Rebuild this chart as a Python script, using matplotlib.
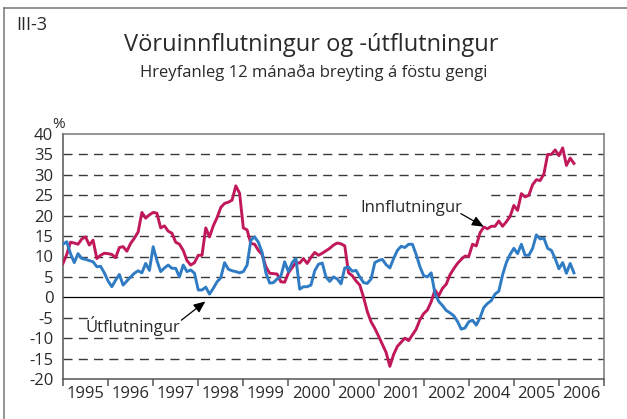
import numpy as np
import matplotlib
matplotlib.use('Agg')
import matplotlib.pyplot as plt
from matplotlib.lines import Line2D
from matplotlib.patches import Rectangle

#-- DATI (mensili, lettura dal grafico)
innflutningur = [
    8.3, 10.5, 13.5, 13.3, 13.0, 14.3, 14.8, 12.8, 14.0, 9.5, 10.3, 10.8,
    10.7, 10.5, 9.7, 12.2, 12.4, 11.3, 13.2, 14.5, 16.0, 20.8, 19.4, 20.2,
    20.8, 20.6, 17.0, 17.5, 16.2, 15.7, 13.5, 13.0, 11.5, 9.0, 7.9, 8.5,
    10.3, 10.3, 17.0, 14.8, 17.5, 19.5, 22.0, 23.0, 23.3, 23.8, 27.3, 25.5,
    17.0, 16.5, 13.2, 13.0, 11.5, 10.5, 7.5, 5.9, 5.8, 5.7, 3.8, 3.7,
    6.0, 7.3, 8.5, 8.4, 9.5, 8.3, 9.8, 11.0, 10.3, 10.8, 11.4, 12.0,
    12.8, 13.3, 13.1, 12.6, 6.0, 5.3, 4.0, 3.0, 0.0, -3.5, -6.0, -7.6,
    -9.5, -11.5, -13.5, -16.9, -14.0, -12.0, -11.0, -10.0, -10.6, -9.2, -7.8, -5.5,
    -4.0, -3.1, -1.1, 1.8, 0.4, 2.2, 3.2, 5.5, 7.0, 8.3, 9.3, 10.1,
    10.0, 13.0, 12.6, 15.8, 17.2, 16.8, 17.4, 17.4, 18.7, 17.4, 18.5, 19.8,
    22.5, 21.3, 25.4, 24.6, 25.0, 27.6, 28.8, 28.6, 30.2, 35.0, 35.0, 36.1,
    34.7, 36.6, 32.3, 34.1, 32.8,
]
utflutningur = [
    13.0, 13.6, 10.7, 8.5, 10.7, 9.5, 9.3, 9.0, 8.7, 7.5, 7.6, 6.0,
    4.0, 2.6, 4.2, 5.6, 3.0, 4.0, 5.0, 5.9, 6.5, 6.0, 8.3, 6.6,
    12.4, 9.0, 6.3, 7.2, 7.9, 7.1, 7.1, 5.0, 7.9, 6.3, 6.7, 5.9,
    1.8, 1.8, 2.5, 0.8, 2.2, 3.8, 4.8, 8.5, 6.9, 6.5, 6.3, 6.0,
    6.3, 7.9, 14.0, 14.8, 13.5, 11.0, 6.0, 3.5, 3.6, 4.5, 5.2, 8.7,
    6.3, 8.5, 9.5, 2.0, 2.6, 2.6, 3.0, 6.5, 8.1, 8.4, 5.0, 3.9,
    5.0, 4.5, 3.3, 7.2, 7.4, 6.4, 6.6, 5.0, 3.6, 3.4, 4.5, 8.5,
    9.0, 9.3, 8.0, 7.2, 9.5, 11.5, 12.5, 12.2, 13.0, 13.0, 10.5, 7.5,
    5.3, 5.0, 6.0, 1.0, -1.0, -2.0, -3.2, -3.8, -4.5, -5.9, -7.8, -7.5,
    -6.0, -5.6, -6.8, -5.0, -2.5, -1.5, -0.8, 0.8, 1.5, 5.5, 8.5, 10.5,
    12.0, 10.7, 13.0, 10.3, 10.3, 12.0, 15.3, 14.3, 14.5, 12.0, 11.5, 9.5,
    7.0, 8.5, 5.9, 8.3, 6.0,
]
ar = ['1995', '1996', '1997', '1998', '1999', '2000', '2000',
      '2001', '2002', '2004', '2005', '2006']
y_ticks = list(range(-20, 45, 5))

#-- STILE
FONT = 'Open Sans'
TXT  = '#2a2a2a'
RED  = '#c0185a'
BLUE = '#2f7cc4'
W, H = 627, 419

fig = plt.figure(figsize=(W/100, H/100), dpi=100)
ax = fig.add_axes([63/W, 1-379/H, (604-63)/W, (379-134)/H])

mesi = np.arange(len(innflutningur))
ax.plot(mesi, innflutningur, color=RED, lw=2.1, zorder=4, solid_joinstyle='round')
ax.plot(np.arange(len(utflutningur)), utflutningur, color=BLUE, lw=2.1, zorder=4,
        solid_joinstyle='round')

#-- griglia tratteggiata
for v in y_ticks:
    if v in (-20, 40):
        continue
    if v == 0:
        ax.axhline(0, color='black', lw=0.9, zorder=1)
    else:
        ax.axhline(v, color='#3a3a3a', lw=1.0, dashes=(6.5, 4.5), zorder=1)

ax.set_xlim(0, 144)
ax.set_ylim(-20, 40)
ax.set_yticks(y_ticks)
ax.set_yticklabels([str(v) for v in y_ticks], fontsize=12, family=FONT, color=TXT)
ax.tick_params(axis='y', length=0, pad=7)

ax.set_xticks(np.arange(0, 145, 12))
ax.set_xticklabels([])
ax.set_xticks(np.arange(6, 144, 12), minor=True)
ax.set_xticklabels(ar, minor=True, fontsize=12, family=FONT, color=TXT)
ax.tick_params(axis='x', which='major', length=5, width=1.1, color='#555', direction='out')
ax.tick_params(axis='x', which='minor', length=0, pad=5)

for s in ['top', 'right']:
    ax.spines[s].set_color('#777')
    ax.spines[s].set_linewidth(1.1)
for s in ['left', 'bottom']:
    ax.spines[s].set_color('#555')
    ax.spines[s].set_linewidth(1.1)

#-- ANNOTAZIONI (riquadri bianchi che coprono la griglia)
ax.add_patch(Rectangle((6.8, -8.5), 30.5, 6.3, facecolor='white', edgecolor='none', zorder=2))
ax.text(18.7, -7.0, 'Útflutningur', fontsize=12, family=FONT, color=TXT,
        ha='center', va='center', zorder=3)
ax.annotate('', xy=(37.9, -1.0), xytext=(31.5, -5.6),
            arrowprops=dict(arrowstyle='-|>,head_length=0.7,head_width=0.3',
                            color='black', lw=0.9, shrinkA=0, shrinkB=0), zorder=5)
ax.add_patch(Rectangle((75.5, 17.6), 36.8, 9.6, facecolor='white', edgecolor='none', zorder=2))
ax.text(92.8, 22.0, 'Innflutningur', fontsize=12, family=FONT, color=TXT,
        ha='center', va='center', zorder=3)
ax.annotate('', xy=(112.0, 17.3), xytext=(105.9, 20.5),
            arrowprops=dict(arrowstyle='-|>,head_length=0.7,head_width=0.3',
                            color='black', lw=0.9, shrinkA=0, shrinkB=0), zorder=5)

#-- TITOLI
fig.text(16/W, 1-25/H, 'III-3', fontsize=13, family=FONT, color=TXT, ha='left', va='center')
fig.text(311/W, 1-45/H, 'Vöruinnflutningur og -útflutningur', fontsize=17,
         family=FONT, color=TXT, ha='center', va='center')
fig.text(314/W, 1-73/H, 'Hreyfanleg 12 mánaða breyting á föstu gengi', fontsize=12,
         family=FONT, color=TXT, ha='center', va='center')
fig.text(52/W, 1-124/H, '%', fontsize=11, family=FONT, color=TXT, ha='left', va='center')

#-- cornice esterna
fig.add_artist(Line2D([3.5/W, 3.5/W], [0, 1-8.5/H], color='#777', lw=1.1))
fig.add_artist(Line2D([3.5/W, 1], [1-8.5/H, 1-8.5/H], color='#777', lw=1.1))

fig.savefig('out.png', dpi=100)
